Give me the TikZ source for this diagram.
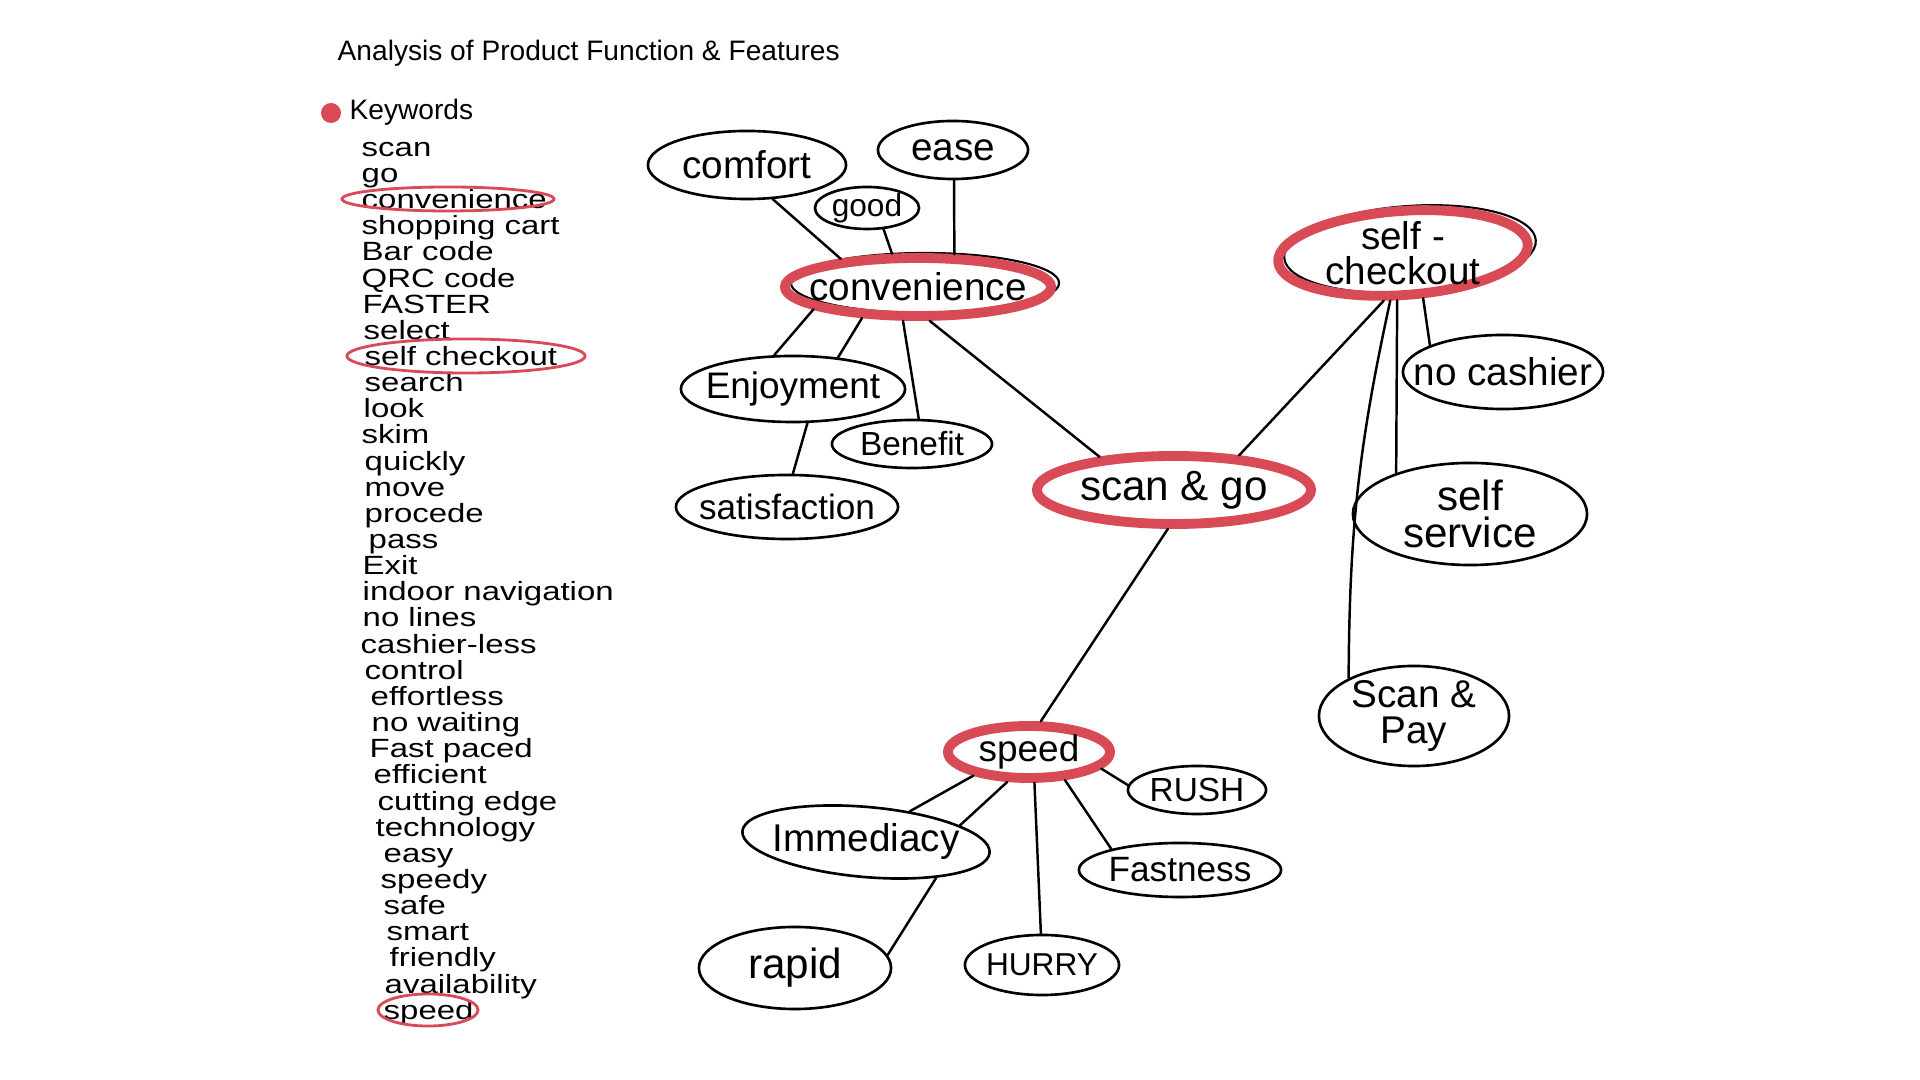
\documentclass[tikz,border=0pt]{standalone}
\usepackage{fontspec}
\setmainfont{Liberation Sans}
\newfontfamily\kwfont[FakeStretch=1.25]{Liberation Sans}
\usetikzlibrary{shapes.geometric}
\definecolor{myred}{RGB}{217,74,87}
\newcommand\fsz[1]{\fontsize{#1}{#1}\selectfont}
\newcommand\fszb[2]{\fontsize{#1}{#2}\selectfont}
\begin{document}
\begin{tikzpicture}[x=0.01cm,y=-0.01cm,
  bub/.style 2 args={ellipse, draw=black, line width=0.75pt, minimum width=#1*0.02cm, minimum height=#2*0.02cm, inner sep=0pt},
  redbub/.style 2 args={ellipse, draw=myred, line width=2.8pt, minimum width=#1*0.02cm, minimum height=#2*0.02cm, inner sep=0pt},
  shade/.style 2 args={ellipse, draw=black, line width=0.6pt, minimum width=#1*0.02cm, minimum height=#2*0.02cm, inner sep=0pt},
  ring/.style 2 args={ellipse, draw=myred, line width=0.8pt, minimum width=#1*0.02cm, minimum height=#2*0.02cm, inner sep=0pt},
  tx/.style 2 args={label={[font=\fsz{#1}, inner sep=0pt]center:#2}},
  txx/.style n args={3}{label={[font=\fszb{#1}{#2}, inner sep=0pt, align=center]center:#3}},
  link/.style={line width=0.7pt, line cap=round},
  kw/.style={anchor=mid west, inner sep=0pt, font=\kwfont\fsz{7.5}},
]
\fill[white] (0,0) rectangle (1920,1080);
\useasboundingbox (0,0) rectangle (1920,1080);

% title and keyword list
\node[anchor=mid west, inner sep=0pt, font=\fsz{8}] (title) at (337,51) {Analysis of Product Function \& Features};
\node[circle, fill=myred, minimum size=0.2cm, inner sep=0pt] (dot) at (331,113) {};
\node[anchor=mid west, inner sep=0pt, font=\fsz{8}] (kwhead) at (349,110) {Keywords};
\foreach \t/\x [count=\i] in {scan/361, go/361, convenience/361, shopping cart/361, Bar code/361, QRC code/361, FASTER/362, select/363, self checkout/364, search/364, look/363, skim/361, quickly/364, move/364, procede/364, pass/368, Exit/362, indoor navigation/362, no lines/362, cashier-less/360, control/364, effortless/370, no waiting/371, Fast paced/369, efficient/373, cutting edge/377, technology/375, easy/383, speedy/380, safe/383, smart/386, friendly/389, availability/384, speed/383}
  \node[kw] (k\i) at (\x,{147+(\i-1)*26.15}) {\t};
\node[ring={106}{12}] (r1) at (448,199) {};
\node[ring={119}{17}] (r2) at (466,356) {};
\node[ring={50}{16}] (r3) at (428,1010) {};

% mind map nodes
\node[bub={99}{34}, tx={11}{comfort}] (comfort) at (747,165) {};
\node[bub={75}{29}, tx={11}{ease}] (ease) at (953,150) {};
\node[bub={52}{21}, tx={9}{good}] (good) at (867,208) {};
\node[shade={134}{30}] (convb) at (925,283) {};
\node[redbub={133}{29}, tx={11}{convenience}] (conv) at (918,287) {};
\node[bub={112}{33}, tx={10.5}{Enjoyment}] (enj) at (793,389) {};
\node[bub={80}{24}, tx={9.5}{Benefit}] (ben) at (912,444) {};
\node[bub={111}{32}, tx={10}{satisfaction}] (sat) at (787,507) {};
\node[redbub={137}{34}, tx={12}{scan \& go}] (sg) at (1174,490) {};
\node[shade={126}{43}, rotate=4] (scb) at (1410,249) {};
\node[redbub={125}{42}, rotate=4, txx={11}{10}{self -\\checkout}] (sc) at (1403,253) {};
\node[bub={100}{37}, tx={11}{no cashier}] (nc) at (1503,372) {};
\node[bub={117}{51}, txx={12}{10.5}{self\\service}] (ss) at (1470,514) {};
\node[bub={95}{50}, txx={11}{10}{Scan \&\\Pay}] (sp) at (1414,716) {};
\node[redbub={81}{26}, tx={10.5}{speed}] (spd) at (1029,752) {};
\node[bub={69}{24}, tx={9.5}{RUSH}] (rush) at (1197,790) {};
\node[bub={124}{35}, rotate=-5, tx={11}{Immediacy}] (imm) at (866,842) {};
\node[bub={101}{27}, tx={10}{Fastness}] (fast) at (1180,870) {};
\node[bub={96}{41}, tx={12}{rapid}] (rapid) at (795,968) {};
\node[bub={77}{30}, tx={9}{HURRY}] (hurry) at (1042,965) {};

% connectors
\draw[link] (comfort.-53) -- (conv.160);
\draw[link] (good.-52) -- (conv.128);
\draw[link] (ease.-88) -- (conv.42);
\draw[link] (conv.192) -- (enj.119);
\draw[link] (conv.209) -- (enj.35);
\draw[link] (conv.246) -- (ben.75);
\draw[link] (conv.289) -- (sg.156);
\draw[link] (enj.293) -- (sat.80);
\draw[link] (sg.28) -- (sc.244);
\draw[link] (sc.290) -- (nc.160);
\draw[link] (sc.259) -- (ss.151);
\draw[link] (sc.251) to[bend right=6] (sp.150);
\draw[link] (sg.261) -- (spd.69);
\draw[link] (spd.347) -- (rush.176);
\draw[link] (spd.203) -- (imm.40);
\draw[link] (spd.234) -- (imm.15);
\draw[link] (spd.280) -- (hurry.92);
\draw[link] (spd.322) -- (fast.163);
\draw[link] (imm.338) -- (rapid.8);
\end{tikzpicture}
\end{document}
